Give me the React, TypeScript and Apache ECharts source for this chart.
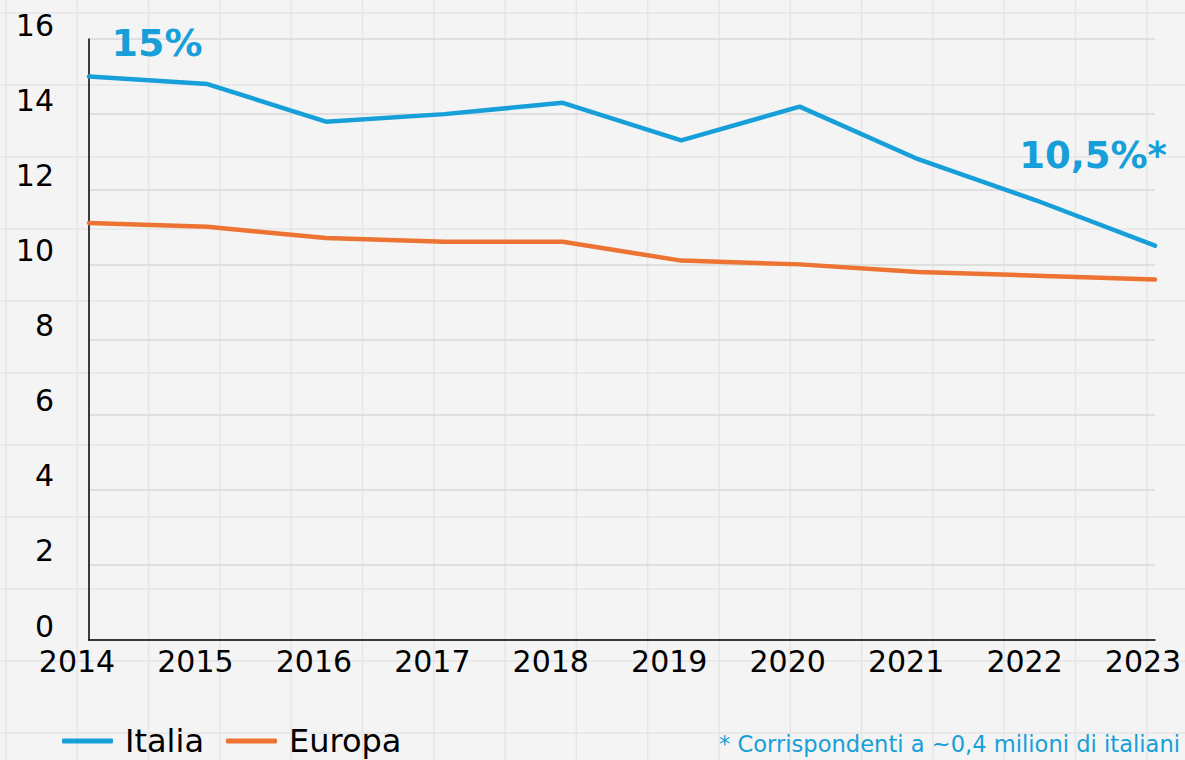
import React, { useEffect, useRef } from "react";
import * as echarts from "echarts";

const years = ["2014", "2015", "2016", "2017", "2018", "2019", "2020", "2021", "2022", "2023"];
const italia = [15.0, 14.8, 13.8, 14.0, 14.3, 13.3, 14.2, 12.8, 11.7, 10.5];
const europa = [11.1, 11.0, 10.7, 10.6, 10.6, 10.1, 10.0, 9.8, 9.7, 9.6];
const yMin = 0;
const yMax = 16;
const yStep = 2;
const labelFirst = "15%";
const labelLast = "10,5%*";
const footnote = "* Corrispondenti a ~0,4 milioni di italiani";

const BLUE = "#169fd8";
const ORANGE = "#ec7332";
const FONT = "DejaVu Sans";

export default function App() {
  const ref = useRef<HTMLDivElement>(null);
  useEffect(() => {
    if (!ref.current) return;
    const chart = echarts.init(ref.current, null, { renderer: "svg" });
    const bg: any[] = [];
    for (let k = 0; k < 17; k++) {
      const x = 6 + 71.3 * k;
      bg.push({ type: "line", z: -10, silent: true, shape: { x1: x, y1: 0, x2: x, y2: 760 }, style: { stroke: "#e6e6e6", lineWidth: 1.5 } });
    }
    for (let k = 0; k < 11; k++) {
      const y = 13 + 72 * k;
      bg.push({ type: "line", z: -10, silent: true, shape: { x1: 0, y1: y, x2: 1185, y2: y }, style: { stroke: "#e6e6e6", lineWidth: 1.5 } });
    }
    bg.push({
      type: "text",
      right: 5,
      top: 732,
      style: { text: footnote, fill: BLUE, font: `22.6px '${FONT}'` },
    });
    chart.setOption({
      animation: false,
      backgroundColor: "#f4f4f4",
      textStyle: { fontFamily: FONT },
      grid: { left: 89, right: 30, top: 39, bottom: 120 },
      legend: {
        left: 62,
        top: 725,
        padding: 0,
        icon: "roundRect",
        itemWidth: 51,
        itemHeight: 5,
        itemGap: 22,
        textStyle: { fontSize: 32, color: "#000", fontFamily: FONT, padding: [0, 0, 0, 7] },
        data: ["Italia", "Europa"],
      },
      xAxis: {
        type: "category",
        data: years,
        boundaryGap: false,
        axisLine: { lineStyle: { color: "#000", width: 1.5 } },
        axisTick: { show: false },
        axisLabel: {
          interval: 0,
          color: "#000",
          fontSize: 30,
          margin: 6,
          fontFamily: FONT,
          formatter: "{a|{value}}",
          rich: { a: { fontSize: 30, color: "#000", fontFamily: FONT, padding: [0, 24, 0, 0] } },
        },
        splitLine: { show: false },
      },
      yAxis: {
        type: "value",
        min: yMin,
        max: yMax,
        interval: yStep,
        axisLine: { show: true, lineStyle: { color: "#000", width: 1.5 } },
        axisTick: { show: false },
        axisLabel: {
          color: "#000",
          fontSize: 30,
          margin: 35,
          fontFamily: FONT,
          formatter: "{a|{value}}",
          rich: { a: { fontSize: 30, color: "#000", fontFamily: FONT, padding: [0, 0, 28, 0] } },
        },
        splitLine: { show: true, lineStyle: { color: "#d9d9d9", width: 1.5 } },
      },
      series: [
        {
          name: "Italia",
          type: "line",
          data: italia,
          symbol: "none",
          color: BLUE,
          lineStyle: { width: 4.5, color: BLUE, cap: "round" },
          z: 3,
          markPoint: {
            symbol: "circle",
            symbolSize: 0,
            silent: true,
            data: [
              {
                coord: [years[0], italia[0]],
                label: { show: true, formatter: labelFirst, offset: [68, -34], color: BLUE, fontSize: 38, fontWeight: "bold", fontFamily: FONT },
              },
              {
                coord: [years[years.length - 1], italia[italia.length - 1]],
                label: { show: true, formatter: labelLast, offset: [-62, -90], color: BLUE, fontSize: 37, fontWeight: "bold", fontFamily: FONT },
              },
            ],
          },
        },
        {
          name: "Europa",
          type: "line",
          data: europa,
          symbol: "none",
          color: ORANGE,
          lineStyle: { width: 4.5, color: ORANGE, cap: "round" },
        },
      ],
      graphic: bg,
    });
    return () => chart.dispose();
  }, []);
  return <div ref={ref} style={{ position: "absolute", left: 0, top: 0, width: 1185, height: 760 }} />;
}
